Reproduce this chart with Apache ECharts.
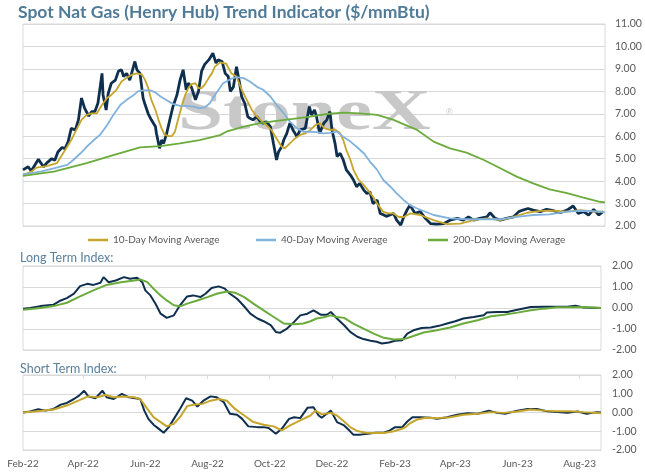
<!DOCTYPE html>
<html>
<head>
<meta charset="utf-8">
<script src="https://cdn.jsdelivr.net/npm/echarts@6/dist/echarts.min.js"></script>
<style>
html,body{margin:0;padding:0;background:#fff;}
#chart{width:645px;height:476px;}
</style>
</head>
<body>
<div id="chart"></div>
<script>
// ---- Data (x = days since 2022-02-01) ----
const axisStart = '2022-02-01';
const axisEnd = '2023-08-22';
const tickDates = ['2022-02-01','2022-04-01','2022-06-01','2022-08-01','2022-10-01','2022-12-01','2023-02-01','2023-04-01','2023-06-01','2023-08-01'];
const tickLabels = ['Feb-22','Apr-22','Jun-22','Aug-22','Oct-22','Dec-22','Feb-23','Apr-23','Jun-23','Aug-23'];

const priceDays = [0,5,8,15,20,23,28,31,34,38,41,44,47,51,54,57,60,64,67,70,73,77,78,81,83,86,90,93,96,98,101,104,109,111,114,117,119,122,125,129,130,133,135,137,140,143,146,150,153,156,159,161,164,168,171,174,177,181,185,188,190,194,197,200,202,205,208,211,213,216,219,221,224,228,231,234,237,241,244,247,249,252,254,257,260,263,267,270,275,279,281,284,286,289,293,296,299,301,304,306,309,312,315,319,322,325,328,332,335,338,341,345,348,351,354,358,361,364,368,371,374,377,382,387,392,397,403,410,416,423,429,434,439,445,452,455,460,465,471,478,483,487,492,497,504,510,517,523,530,536,541,546,551,556,561,565];
const priceVals = [4.5,4.64,4.45,4.97,4.64,4.8,5.0,4.93,5.3,5.5,5.45,5.76,6.35,6.28,6.73,7.7,7.25,6.9,7.1,7.1,7.47,8.8,7.84,7.17,7.9,8.36,8.5,8.9,8.96,8.66,8.8,8.5,9.33,8.96,8.8,7.7,7.4,7.0,6.73,6.43,6.13,5.46,5.83,5.68,6.13,6.73,7.3,7.84,8.5,8.96,8.07,8.36,8.2,7.62,8.0,8.9,9.2,9.4,9.7,9.26,9.4,9.33,8.8,8.66,8.0,8.2,9.1,8.36,7.77,7.47,6.87,6.8,6.73,6.87,6.65,6.58,6.65,6.43,5.68,4.94,5.31,5.53,5.83,6.13,6.58,6.28,5.98,6.28,6.35,7.32,6.95,7.17,6.87,6.13,6.58,6.73,7.1,6.28,5.68,5.1,5.24,4.94,4.5,4.27,4.05,3.75,3.9,3.6,3.45,3.52,3.0,3.15,2.56,2.5,2.43,2.5,2.56,2.26,2.04,2.41,2.7,2.93,2.56,2.64,2.34,2.11,2.08,2.11,2.26,2.34,2.26,2.41,2.26,2.34,2.41,2.59,2.34,2.26,2.34,2.41,2.64,2.71,2.78,2.71,2.64,2.74,2.68,2.59,2.71,2.89,2.56,2.64,2.49,2.74,2.49,2.64];

const ma10Days = [0,8,13,23,33,38,43,47,52,57,62,67,72,77,82,86,91,96,101,106,111,116,119,122,125,129,132,135,138,142,145,148,151,155,158,161,164,168,171,174,177,181,184,187,192,198,203,208,213,218,223,228,233,237,242,247,252,255,260,265,270,275,280,285,289,294,299,304,309,312,315,319,322,327,332,336,341,346,351,356,361,366,371,377,387,400,413,426,439,452,465,478,491,504,517,530,543,556,565];
const ma10Vals = [4.27,4.42,4.6,4.67,4.8,5.16,5.53,5.83,6.28,6.73,6.95,7.02,7.02,7.4,7.7,7.84,8.07,8.44,8.6,8.74,8.8,8.74,8.5,8.14,7.62,7.17,6.73,6.35,6.06,6.0,6.0,6.2,6.73,7.4,7.84,8.14,8.32,8.36,8.14,8.14,8.3,8.6,8.8,9.1,9.29,9.23,8.8,8.66,8.07,7.62,7.17,6.87,6.65,6.5,6.28,5.9,5.53,5.46,5.68,5.9,6.06,6.13,6.28,6.5,6.58,6.35,6.28,6.3,6.13,5.83,5.39,4.94,4.5,4.05,3.82,3.6,3.3,2.93,2.63,2.56,2.56,2.4,2.4,2.56,2.49,2.26,2.08,2.11,2.26,2.34,2.26,2.41,2.59,2.67,2.68,2.64,2.71,2.64,2.64];

const ma40Days = [0,17,30,43,49,56,62,69,75,82,88,95,101,108,112,117,124,129,134,140,146,153,159,166,172,177,182,188,195,202,208,215,221,228,234,241,247,254,260,267,273,280,286,293,299,306,312,319,325,332,338,345,351,358,364,371,377,384,400,416,432,449,465,481,497,513,530,546,562,567];
const ma40Vals = [4.3,4.42,4.57,4.72,4.94,5.24,5.53,5.83,6.06,6.5,6.95,7.4,7.62,7.84,8.0,8.04,8.04,7.95,7.77,7.6,7.44,7.35,7.35,7.32,7.25,7.28,7.47,7.9,8.36,8.54,8.63,8.59,8.44,8.2,8.07,7.77,7.4,7.02,6.65,6.35,6.2,6.2,6.18,6.13,6.15,6.2,5.98,5.76,5.53,5.24,4.87,4.5,4.05,3.75,3.45,3.15,2.93,2.78,2.49,2.34,2.3,2.3,2.3,2.41,2.49,2.52,2.64,2.68,2.64,2.62];

const ma200Days = [0,30,62,88,114,134,153,172,192,198,215,231,247,263,280,296,312,328,345,361,370,384,400,416,432,449,465,481,497,513,530,546,562,567];
const ma200Vals = [4.23,4.42,4.8,5.16,5.5,5.56,5.68,5.83,6.05,6.2,6.43,6.58,6.68,6.77,6.87,6.99,7.05,7.02,6.95,6.73,6.55,6.28,5.76,5.46,5.27,4.94,4.57,4.2,3.9,3.63,3.46,3.26,3.08,3.05];

const longIdxDays = [0,7,17,30,37,43,50,56,63,69,76,79,84,91,99,105,112,117,120,125,130,135,141,148,154,161,167,174,179,185,192,198,203,210,216,223,230,236,243,248,252,259,266,272,279,285,292,298,302,308,315,321,328,334,341,347,352,359,365,372,377,383,391,400,408,416,424,432,442,452,455,465,475,485,498,511,524,534,542,550,567];
const longIdxVals = [-0.03,0.0,0.09,0.16,0.36,0.47,0.68,1.04,1.15,1.1,1.2,1.47,1.23,1.31,1.47,1.39,1.44,1.23,0.84,0.6,0.2,-0.27,-0.47,-0.35,0.13,0.55,0.6,0.52,0.68,0.95,1.03,0.92,0.68,0.44,0.13,-0.27,-0.5,-0.63,-0.82,-1.14,-1.18,-0.98,-0.66,-0.35,-0.27,-0.11,-0.32,-0.32,-0.19,-0.5,-0.82,-1.14,-1.37,-1.48,-1.56,-1.61,-1.69,-1.64,-1.56,-1.53,-1.22,-1.06,-0.95,-0.93,-0.85,-0.74,-0.63,-0.5,-0.43,-0.35,-0.22,-0.19,-0.19,-0.08,0.05,0.06,0.06,0.06,0.11,0.02,0.0];
const longSigDays = [0,17,30,43,56,69,82,96,109,115,122,128,135,141,148,154,161,171,181,190,200,208,217,226,236,246,256,266,275,282,288,295,302,308,315,324,334,344,354,364,374,383,393,406,419,432,446,459,472,485,498,511,524,537,550,567];
const longSigVals = [-0.08,0.0,0.09,0.25,0.55,0.84,1.1,1.23,1.31,1.36,1.23,0.92,0.6,0.36,0.13,0.08,0.21,0.36,0.52,0.68,0.79,0.73,0.52,0.21,-0.11,-0.43,-0.74,-0.77,-0.74,-0.63,-0.5,-0.44,-0.35,-0.43,-0.47,-0.74,-0.98,-1.22,-1.42,-1.5,-1.48,-1.33,-1.17,-1.06,-0.93,-0.74,-0.58,-0.39,-0.32,-0.22,-0.11,-0.03,0.03,0.03,0.05,0.0];

const shortIdxDays = [0,7,15,22,30,37,43,50,55,60,64,71,78,82,89,97,104,110,115,119,123,128,133,138,143,148,154,160,166,171,177,184,190,197,203,210,215,221,230,236,241,248,254,261,266,272,279,285,290,293,298,302,308,315,320,324,331,338,346,354,360,365,372,377,382,390,400,406,416,426,436,446,457,465,473,485,495,504,514,524,534,544,553,563,567];
const shortIdxVals = [0,0.05,0.18,0.1,0.19,0.42,0.51,0.72,0.9,1.16,0.86,0.76,1.16,0.81,0.72,0.99,0.81,0.76,0.72,0.1,-0.34,-0.65,-0.86,-1.08,-0.78,-0.34,0.19,0.76,0.63,0.32,0.63,0.86,0.81,0.55,-0.07,-0.12,-0.34,-0.74,-0.78,-0.78,-0.83,-1.13,-0.86,-0.34,-0.25,-0.3,0.25,0.28,-0.16,-0.28,-0.07,0.1,-0.51,-0.69,-0.95,-1.18,-1.18,-1.13,-1.08,-1.08,-0.95,-0.78,-0.78,-0.48,-0.25,-0.25,-0.28,-0.34,-0.25,-0.12,-0.04,-0.07,0.1,-0.02,-0.07,0.1,0.19,0.19,0.07,0.02,-0.02,0.05,-0.07,0.02,0.0];
const shortSigDays = [0,14,30,43,56,64,73,81,89,99,109,115,122,128,135,141,148,154,161,167,176,184,192,200,208,217,226,236,246,254,262,272,282,287,293,302,308,315,321,328,336,344,354,364,374,380,387,395,406,419,432,446,459,472,485,498,511,524,537,550,567];
const shortSigVals = [0,0.07,0.16,0.37,0.67,0.86,0.81,0.93,0.81,0.85,0.81,0.72,0.19,-0.25,-0.51,-0.74,-0.6,-0.25,0.34,0.41,0.46,0.63,0.72,0.63,0.19,-0.16,-0.51,-0.65,-0.74,-0.95,-0.69,-0.42,-0.16,0.1,-0.1,-0.02,-0.16,-0.48,-0.78,-0.99,-1.08,-1.09,-1.09,-1.0,-0.83,-0.56,-0.37,-0.28,-0.3,-0.25,-0.12,-0.07,0.02,-0.02,0.05,0.16,0.1,0.07,0.07,0.02,-0.04];

// ---- helpers ----
const DAY = 86400000;
const t0 = Date.parse(axisStart);
const xMax = Math.round((Date.parse(axisEnd) - t0) / DAY);
const tickDays = tickDates.map(d => Math.round((Date.parse(d) - t0) / DAY));
const zip = (xs, ys) => xs.map((x, i) => [x, ys[i]]);
const labelFor = v => { const i = tickDays.indexOf(Math.round(v)); return i >= 0 ? tickLabels[i] : ''; };

const NAVY = '#0f2f4f', GOLD = '#c6a52c', BLUE = '#80b2dc', GREEN = '#6aab3c';
const GRIDC = '#d9d9d9', TXT = '#595959', FONT = 'Lato';

const hiddenX = (gi) => ({gridIndex: gi, type: 'value', min: 0, max: xMax,
  axisLabel: {show: false}, axisTick: {show: false}, axisLine: {show: false}, splitLine: {show: false}});
const yAx = (gi, mn, mx, margin, fs) => ({gridIndex: gi, type: 'value', position: 'right', min: mn, max: mx, interval: 1,
  axisLabel: {formatter: v => v.toFixed(2), color: TXT, fontSize: fs, fontFamily: FONT, margin: margin},
  axisLine: {show: false}, axisTick: {show: false},
  splitLine: {show: true, lineStyle: {color: GRIDC, width: 1}}});
const line = (name, xi, data, color, width, z) => ({name, type: 'line', xAxisIndex: xi, yAxisIndex: xi, data,
  symbol: 'none', showSymbol: false, smooth: false, z: z, lineStyle: {color, width}, itemStyle: {color}});
const legendAt = (name, left) => ({data: [name], left: left, top: 235, padding: 0, icon: 'rect', itemWidth: 20, itemHeight: 2.5,
  textStyle: {color: TXT, fontSize: 10, fontFamily: FONT}});

const chart = echarts.init(document.getElementById('chart'), null, {renderer: 'canvas'});
chart.setOption({
  animation: false,
  backgroundColor: '#ffffff',
  textStyle: {fontFamily: FONT},
  title: {text: 'Spot Nat Gas (Henry Hub) Trend Indicator ($/mmBtu)', left: 18, top: 3, padding: 0,
    textStyle: {fontSize: 17.5, fontWeight: 'bold', color: '#4f7b99', fontFamily: FONT}},
  legend: [
    legendAt('10-Day Moving Average', 88),
    legendAt('40-Day Moving Average', 256),
    legendAt('200-Day Moving Average', 428)
  ],
  graphic: [
    {type: 'text', x: 178, y: 143, z: 1, scaleX: 1.45, style: {text: 'StoneX', font: 'bold 56px "Liberation Serif"', fill: '#c8c8c8', textVerticalAlign: 'bottom'}},
    {type: 'text', x: 446, y: 108, z: 1, style: {text: '\u00AE', font: '9px "Liberation Sans"', fill: '#c8c8c8'}},
    {type: 'text', left: 20, top: 251, style: {text: 'Long Term Index:', font: '12.5px Lato', fill: '#5a7f9b'}},
    {type: 'text', left: 20, top: 362, style: {text: 'Short Term Index:', font: '12.5px Lato', fill: '#5a7f9b'}}
  ],
  grid: [
    {left: 23, right: 40, top: 24, height: 202, show: true, borderColor: GRIDC, borderWidth: 1, backgroundColor: 'transparent'},
    {left: 23, right: 44, top: 266, height: 84, show: true, borderColor: GRIDC, borderWidth: 1, backgroundColor: 'transparent'},
    {left: 23, right: 44, top: 375, height: 75, show: true, borderColor: GRIDC, borderWidth: 1, backgroundColor: 'transparent'}
  ],
  xAxis: [
    hiddenX(0),
    hiddenX(1),
    {gridIndex: 2, type: 'value', min: 0, max: xMax,
      axisLabel: {show: true, customValues: tickDays, formatter: labelFor, color: TXT, fontSize: 10, fontFamily: FONT, margin: 9, showMinLabel: true, showMaxLabel: true},
      axisTick: {show: false}, axisLine: {show: false}, splitLine: {show: false}},
    {gridIndex: 2, type: 'value', min: 0, max: xMax, position: 'top',
      axisLabel: {show: false}, axisLine: {show: false}, splitLine: {show: false},
      axisTick: {show: true, inside: true, length: 4, customValues: tickDays.slice(1), lineStyle: {color: GRIDC}}}
  ],
  yAxis: [
    yAx(0, 2, 11, 10, 10.5),
    yAx(1, -2, 2, 11, 10.5),
    yAx(2, -2, 2, 11, 10.5)
  ],
  series: [
    line('Spot', 0, zip(priceDays, priceVals), NAVY, 2.8, 3),
    line('10-Day Moving Average', 0, zip(ma10Days, ma10Vals), GOLD, 1.8, 4),
    line('40-Day Moving Average', 0, zip(ma40Days, ma40Vals), BLUE, 1.8, 4),
    line('200-Day Moving Average', 0, zip(ma200Days, ma200Vals), GREEN, 1.8, 4),
    line('Long Term Index', 1, zip(longIdxDays, longIdxVals), NAVY, 2, 3),
    line('Long Term Signal', 1, zip(longSigDays, longSigVals), GREEN, 2, 4),
    line('Short Term Index', 2, zip(shortIdxDays, shortIdxVals), NAVY, 2, 3),
    line('Short Term Signal', 2, zip(shortSigDays, shortSigVals), GOLD, 2, 4)
  ]
});
</script>
</body>
</html>
